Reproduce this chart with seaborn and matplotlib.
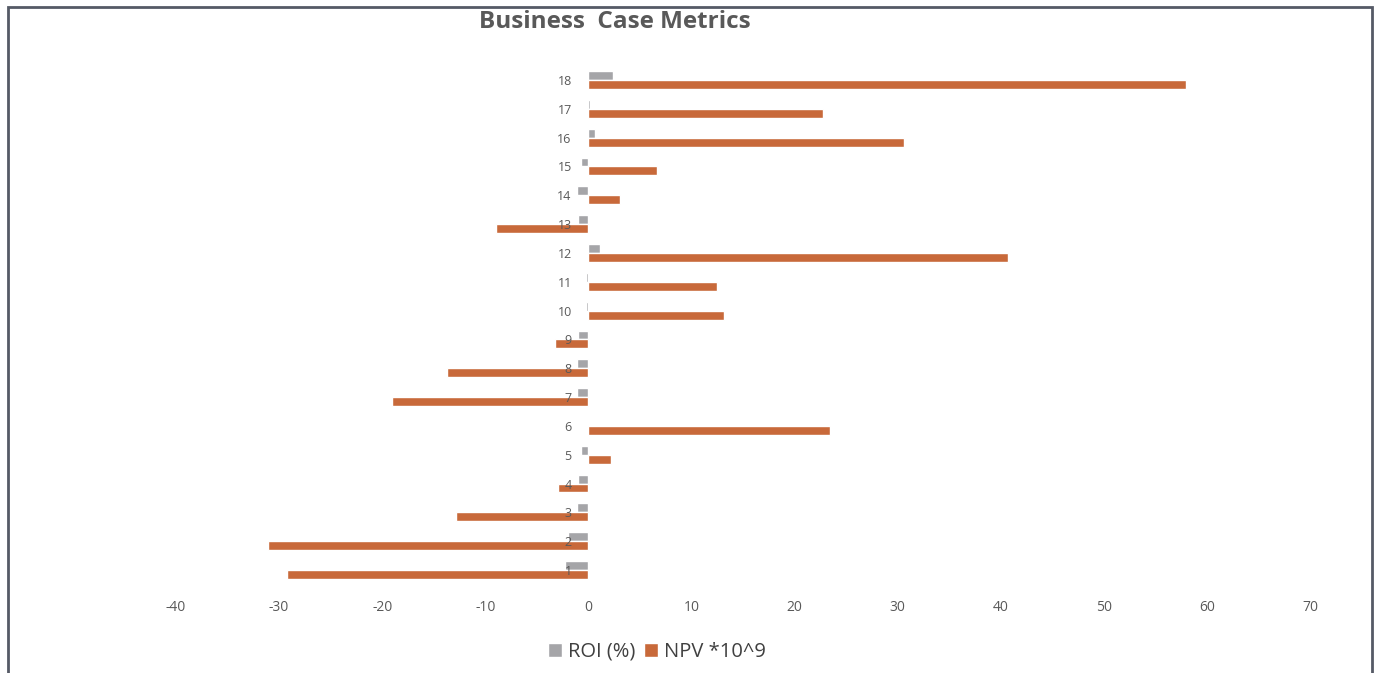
import matplotlib
matplotlib.use("Agg")
import matplotlib.pyplot as plt
import seaborn as sns
import pandas as pd
from matplotlib.patches import Rectangle

categories = [str(i) for i in range(1, 19)]
roi = [-2.3, -2.0, -1.1, -1.0, -0.7, 0.0, -1.1, -1.1, -1.0, -0.2,
       -0.2, 1.1, -1.0, -1.1, -0.7, 0.6, 0.15, 2.4]
npv = [-29.2, -31.1, -12.8, -2.9, 2.2, 23.4, -19.0, -13.7, -3.2, 13.2,
       12.5, 40.7, -9.0, 3.1, 6.7, 30.6, 22.8, 58.0]
series_names = ["ROI (%)", "NPV *10^9"]
x_ticks = [-40, -30, -20, -10, 0, 10, 20, 30, 40, 50, 60, 70]

df = pd.DataFrame({
    "cat": categories * 2,
    "value": roi + npv,
    "series": [series_names[0]] * len(categories) + [series_names[1]] * len(categories),
})

sns.set_theme(style="white")
plt.rcParams["font.family"] = ["Open Sans", "DejaVu Sans"]

fig = plt.figure(figsize=(13.75, 6.73), dpi=100)
ax = fig.add_axes([0.128, 0.1316, 0.8247, 0.7709])

colors = {"ROI (%)": "#A5A5A8", "NPV *10^9": "#C8693A"}
order = categories[::-1]
sns.barplot(data=df, x="value", y="cat", hue="series", order=order,
            hue_order=series_names, palette=colors, orient="h",
            width=0.62, ax=ax, legend=True, saturation=1)

ax.set_axisbelow(False)
ax.set_xlim(-40, 70)
ax.set_xticks(x_ticks)
ax.set_xticklabels([str(t) for t in x_ticks], color="#595959", fontsize=10)
ax.set_xlabel("")
ax.set_ylabel("")
for s in ["top", "right", "bottom"]:
    ax.spines[s].set_visible(False)
ax.spines["left"].set_position(("data", 0))
ax.spines["left"].set_visible(False)
ax.tick_params(axis="y", length=0, pad=12, labelsize=9, labelcolor="#595959")
ax.tick_params(axis="x", length=0, pad=11)

fig.text(615 / 1375, 1 - 22 / 673, "Business  Case Metrics", fontsize=17.5,
         fontweight="bold", color="#595959", ha="center", va="center")

handles, labels = ax.get_legend_handles_labels()
ax.get_legend().remove()
leg = fig.legend(handles, labels, loc="center", bbox_to_anchor=(657 / 1375, 1 - 652 / 673),
                 ncol=2, frameon=False, fontsize=14.5, handlelength=0.7, handleheight=0.7,
                 handletextpad=0.3, columnspacing=0.4, borderpad=0)
for t in leg.get_texts():
    t.set_color("#404040")

fig.patches.append(Rectangle((8 / 1375, -0.01), (1372 - 8) / 1375, 1 - 7 / 673 + 0.01,
                             transform=fig.transFigure, fill=False,
                             edgecolor="#555a66", linewidth=2.0))

fig.savefig("out.png", dpi=100, facecolor="white")
